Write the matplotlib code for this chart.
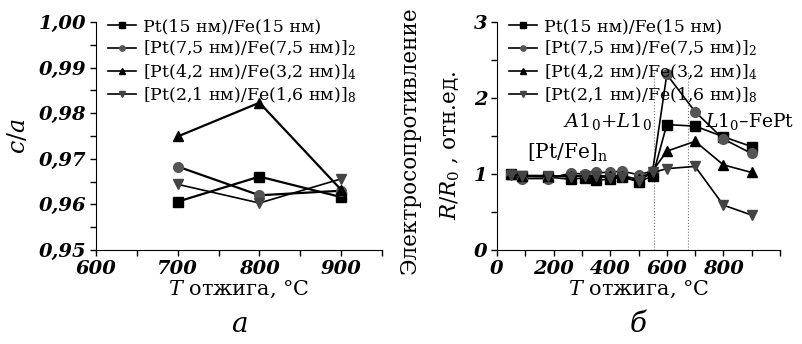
import matplotlib.pyplot as plt
from matplotlib.ticker import MultipleLocator, FuncFormatter

plt.rcParams['font.family'] = ['DejaVu Serif']
plt.rcParams['mathtext.fontset'] = 'dejavuserif'

labels = ['Pt(15 нм)/Fe(15 нм)',
          '[Pt(7,5 нм)/Fe(7,5 нм)]$_2$',
          '[Pt(4,2 нм)/Fe(3,2 нм)]$_4$',
          '[Pt(2,1 нм)/Fe(1,6 нм)]$_8$']
markers = ['s', 'o', '^', 'v']
mcolors = ['black', '#555555', 'black', '#444444']

# panel a: c/a vs annealing temperature
t_a = [700, 800, 900]
ca_1 = [0.9606, 0.9661, 0.9616]
ca_2 = [0.9683, 0.9620, 0.9630]
ca_3 = [0.9749, 0.9823, 0.9632]
ca_4 = [0.9644, 0.9603, 0.9656]

# panel b: R/R0 vs annealing temperature
t_b = [50, 90, 180, 260, 310, 350, 400, 440, 500, 550, 600, 700, 800, 900]
r_1 = [1.00, 0.97, 0.96, 0.93, 0.95, 0.92, 0.93, 0.96, 0.90, 0.97, 1.65, 1.63, 1.49, 1.36]
r_2 = [1.00, 0.94, 0.94, 1.01, 1.00, 1.02, 1.02, 1.04, 0.99, 1.04, 2.31, 1.82, 1.46, 1.27]
r_3 = [1.00, 0.97, 0.97, 0.98, 0.97, 0.98, 0.97, 0.98, 0.93, 1.04, 1.30, 1.43, 1.12, 1.02]
r_4 = [0.99, 0.98, 0.98, 0.96, 0.98, 0.97, 0.95, 0.96, 0.91, 1.02, 1.07, 1.10, 0.59, 0.46]

fig = plt.figure(figsize=(8.02, 3.44), dpi=100)
ax1 = fig.add_axes([96/802, 94/344, 286/802, 228/344])
ax2 = fig.add_axes([497/802, 94/344, 283/802, 228/344])

for ys, m, c, lw in zip([ca_1, ca_2, ca_3, ca_4], markers, mcolors, [1.6, 1.6, 1.6, 1.2]):
    ax1.plot(t_a, ys, marker=m, color='black', mfc=c, mec=c, ms=7, lw=lw)
for ys, m, c, lab in zip([r_1, r_2, r_3, r_4], markers, mcolors, labels):
    ax2.plot(t_b, ys, marker=m, color='black', mfc=c, mec=c, ms=7, lw=1.2, label=lab)

ax2.vlines([555, 674], 0, 2.35, color='#777777', lw=0.8, ls=':', zorder=0)

for ax in (ax1, ax2):
    ax.spines['top'].set_visible(False)
    ax.spines['right'].set_visible(False)
    ax.tick_params(which='both', direction='out', length=4, width=1)

ax1.set_xlim(600, 950)
ax1.set_ylim(0.95, 1.00)
ax1.xaxis.set_major_locator(MultipleLocator(100))
ax1.xaxis.set_minor_locator(MultipleLocator(50))
ax1.yaxis.set_major_locator(MultipleLocator(0.01))
ax1.yaxis.set_minor_locator(MultipleLocator(0.005))
ax1.yaxis.set_major_formatter(FuncFormatter(lambda v, p: f'{v:.2f}'.replace('.', ',')))

ax2.set_xlim(0, 1000)
ax2.set_ylim(0, 3)
ax2.xaxis.set_major_locator(MultipleLocator(200))
ax2.xaxis.set_minor_locator(MultipleLocator(100))
ax2.xaxis.set_major_formatter(FuncFormatter(lambda v, p: '' if v > 900 else f'{v:.0f}'))
ax2.yaxis.set_major_locator(MultipleLocator(1))
ax2.yaxis.set_minor_locator(MultipleLocator(0.5))

for ax in (ax1, ax2):
    ax.tick_params(labelsize=14, pad=3)
    for t in ax.get_xticklabels() + ax.get_yticklabels():
        t.set_fontstyle('italic')
        t.set_fontweight('bold')
    ax.set_xlabel('$T$ отжига, °C', fontsize=15, labelpad=1)

ax1.set_ylabel('$c/a$', fontsize=17, labelpad=6)
fig.text(410/802, 1 - 140/344, 'Электросопротивление', fontsize=15.5, rotation=90,
         ha='center', va='center')
fig.text(450/802, 1 - 145/344, '$R/R_0$ , отн.ед.', fontsize=15.5, rotation=90,
         ha='center', va='center')

leg_kw = dict(loc='upper left', bbox_to_anchor=(0.0, 1.07), frameon=False, fontsize=12.5,
              handlelength=1.6, handletextpad=0.4, borderaxespad=0.3, labelspacing=0.22,
              markerscale=0.55)
h, l = ax2.get_legend_handles_labels()
ax1.legend(h, l, **leg_kw)
ax2.legend(h, l, **leg_kw)

ax2.text(0.233, 0.565, '$A1_0$+$L1_0$', transform=ax2.transAxes, fontsize=14, va='center')
ax2.text(0.735, 0.565, '$L1_0$–FePt', transform=ax2.transAxes, fontsize=13.5, va='center')
ax2.text(0.106, 0.425, '[Pt/Fe]$_\\mathrm{n}$', transform=ax2.transAxes, fontsize=14.5,
         va='center')

fig.text(239/802, 1 - 325/344, 'а', fontsize=20, style='italic', ha='center', va='center')
fig.text(638/802, 1 - 325/344, 'б', fontsize=20, style='italic', ha='center', va='center')

fig.savefig('out.png', dpi=100)
